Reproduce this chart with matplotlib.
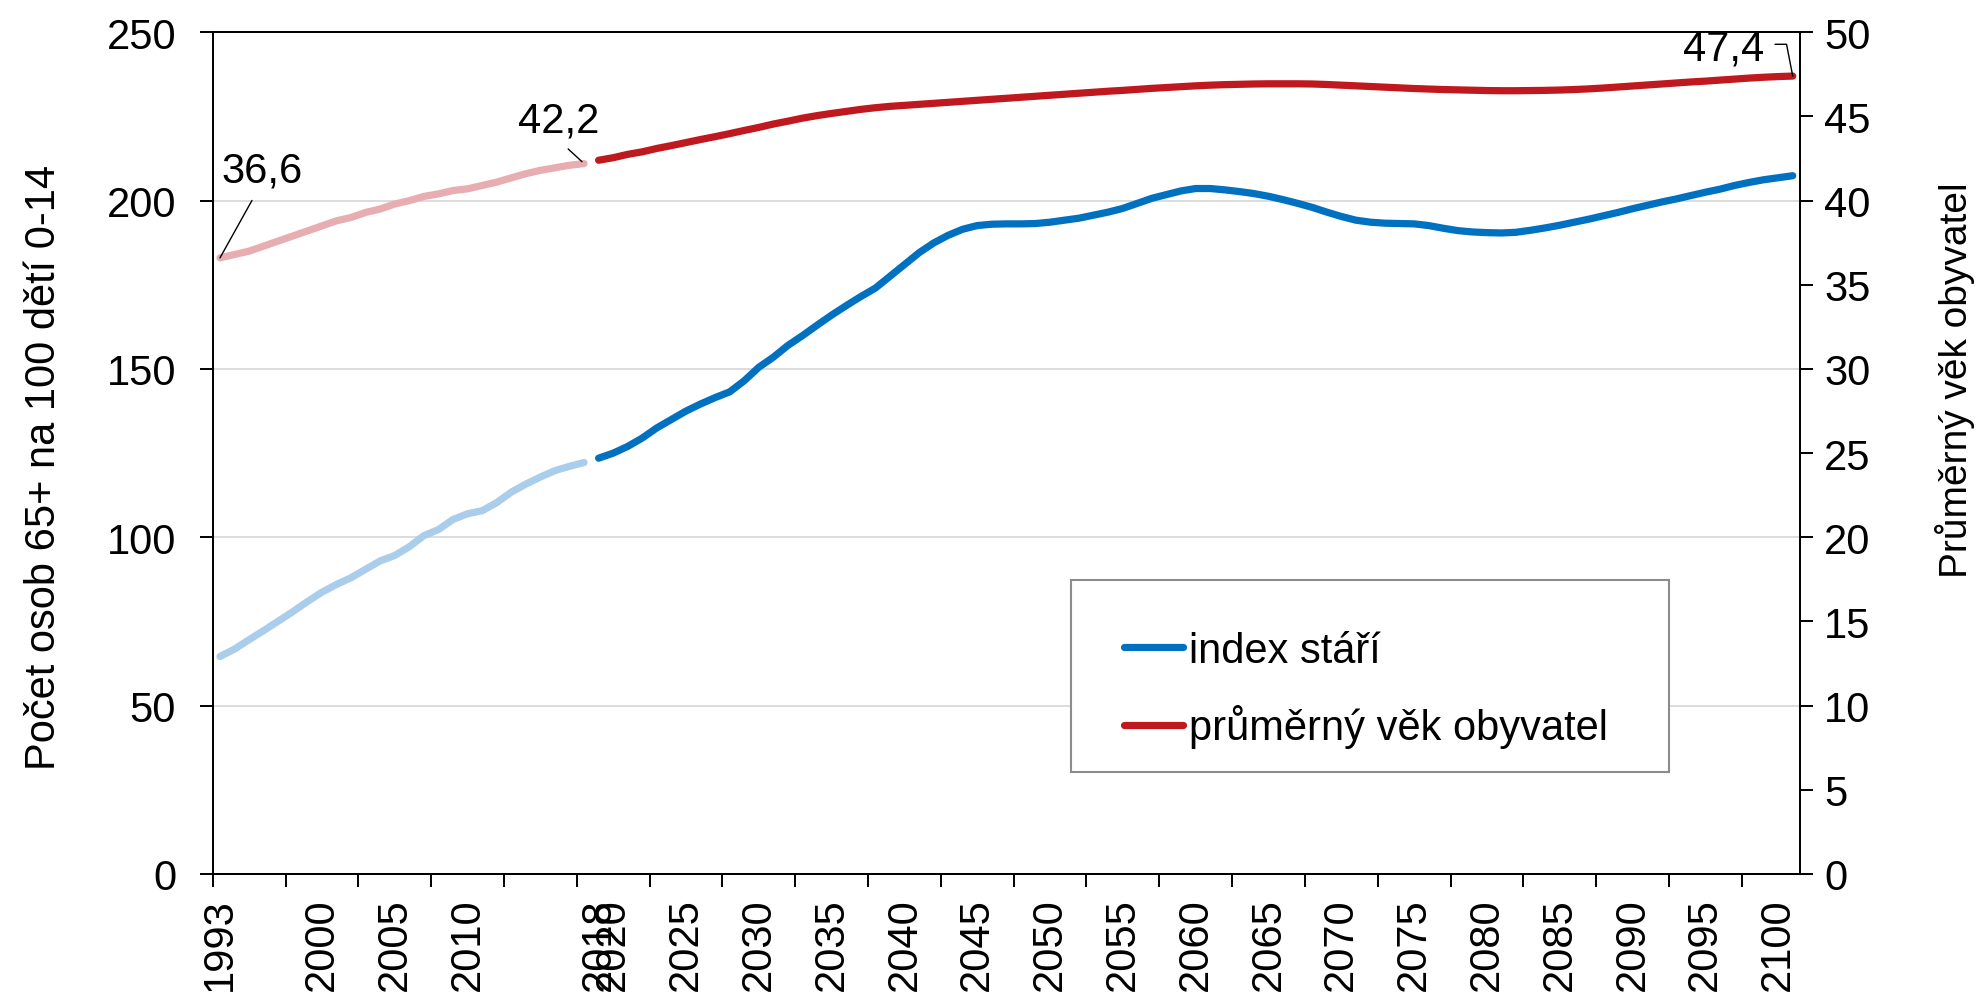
import matplotlib
matplotlib.use('Agg')
import matplotlib.pyplot as plt
import numpy as np
from matplotlib.patches import Rectangle

plt.rcParams['font.family'] = ['Liberation Sans', 'DejaVu Sans']
plt.rcParams['font.size'] = 30

# actual values 1993-2018
index_actual = [64.6, 66.8, 69.6, 72.3, 75.1, 77.9, 80.9, 83.7, 86.0, 88.0,
                90.5, 93.0, 94.6, 97.2, 100.5, 102.3, 105.3, 107.0, 107.9, 110.3,
                113.4, 115.8, 117.9, 119.8, 121.1, 122.2]
age_actual = [36.6, 36.8, 37.0, 37.3, 37.6, 37.9, 38.2, 38.5, 38.8, 39.0,
              39.3, 39.5, 39.8, 40.0, 40.25, 40.4, 40.6, 40.7, 40.9, 41.1,
              41.35, 41.6, 41.8, 41.95, 42.1, 42.2]

# projection
index_proj = [123.5, 125.0, 127.0, 129.5, 132.5, 135.0, 137.5, 139.6, 141.5, 143.2,
              146.5, 150.5, 153.5, 157.0, 159.9, 163.0, 166.0, 168.8, 171.5, 174.0,
              177.5, 181.0, 184.5, 187.4, 189.7, 191.5, 192.6, 193.0, 193.1, 193.1,
              193.2, 193.6, 194.2, 194.8, 195.7, 196.6, 197.7, 199.2, 200.7, 201.8,
              202.9, 203.6, 203.6, 203.2, 202.7, 202.1, 201.3, 200.3, 199.2, 198.0,
              196.6, 195.3, 194.2, 193.6, 193.3, 193.2, 193.1, 192.6, 191.8, 191.1,
              190.7, 190.5, 190.4, 190.6, 191.2, 191.9, 192.7, 193.6, 194.5, 195.5,
              196.5, 197.6, 198.6, 199.6, 200.5, 201.5, 202.5, 203.4, 204.5, 205.4,
              206.2, 206.8, 207.4]
age_proj = [42.4, 42.55, 42.75, 42.9, 43.1, 43.27, 43.45, 43.63, 43.8, 43.98,
            44.17, 44.35, 44.55, 44.72, 44.9, 45.05, 45.18, 45.3, 45.42, 45.52,
            45.6, 45.66, 45.72, 45.78, 45.84, 45.9, 45.96, 46.02, 46.08, 46.14,
            46.2, 46.26, 46.32, 46.38, 46.44, 46.5, 46.55, 46.61, 46.67, 46.72,
            46.77, 46.82, 46.86, 46.89, 46.91, 46.93, 46.94, 46.94, 46.94, 46.93,
            46.9, 46.86, 46.82, 46.78, 46.74, 46.7, 46.66, 46.63, 46.6, 46.58,
            46.56, 46.54, 46.53, 46.53, 46.54, 46.55, 46.57, 46.6, 46.64, 46.69,
            46.75, 46.81, 46.87, 46.93, 46.99, 47.05, 47.1, 47.16, 47.22, 47.28,
            47.33, 47.37, 47.4]

# category axis labels (category index, text)
label_pos = [0, 7, 12, 17, 26] + list(range(27, 108, 5))
label_txt = ['1993', '2000', '2005', '2010', '2018'] + [str(y) for y in range(2020, 2101, 5)]

x_act = np.arange(len(index_actual))
x_proj = np.arange(len(index_actual), len(index_actual) + len(index_proj))

fig = plt.figure(figsize=(19.8, 9.95), dpi=100)
ax = fig.add_axes([212.7 / 1980, 120 / 995, 1587.3 / 1980, 841.7 / 995])
ax2 = ax.twinx()

lw = 5.2
ax.plot(x_act, index_actual, color='#a9cdeb', lw=lw, solid_capstyle='round')
l_blue, = ax.plot(x_proj, index_proj, color='#0070c0', lw=lw, solid_capstyle='round')
ax2.plot(x_act, age_actual, color='#e8adb1', lw=lw, solid_capstyle='round')
l_red, = ax2.plot(x_proj, age_proj, color='#c0181f', lw=lw, solid_capstyle='round')

ax.set_xlim(-0.5, 108.5)
ax.set_ylim(0, 250)
ax2.set_ylim(0, 50)
ax.set_yticks(np.arange(0, 251, 50))
ax2.set_yticks(np.arange(0, 51, 5))
ax.yaxis.grid(True, color='#d9d9d9', lw=1.3)
ax.set_axisbelow(True)

ax.set_xticks(np.arange(-0.5, 105, 5))
ax.set_xticks(label_pos, minor=True)
ax.set_xticklabels(label_txt, minor=True, rotation=90)
ax.tick_params(axis='x', which='major', length=9.4, width=1.4, labelbottom=False)
ax.tick_params(axis='x', which='minor', length=0, pad=16.5)
ax.tick_params(axis='y', length=9.4, width=1.4, pad=17)
ax2.tick_params(axis='y', length=9.4, width=1.4, pad=8)
for a in (ax, ax2):
    for s in a.spines.values():
        s.set_linewidth(1.4)

fig.text(44 / 1980, 1 - 467 / 995, 'Počet osob 65+ na 100 dětí 0-14',
         rotation=90, ha='center', va='center')
fig.text(1955 / 1980, 1 - 380 / 995, 'Průměrný věk obyvatel',
         rotation=90, ha='center', va='center', fontsize=28)


def fmt(v):
    return f'{v:.1f}'.replace('.', ',')


ax2.annotate(fmt(age_actual[0]), xy=(x_act[0], age_actual[0]), xytext=(30, 63),
             textcoords='offset points', ha='center', va='center',
             arrowprops=dict(arrowstyle='-', color='black', lw=1, relpos=(0.45, 0),
                             shrinkA=6, shrinkB=0))
ax2.annotate(fmt(age_actual[-1]), xy=(x_act[-1], age_actual[-1]), xytext=(-18, 31),
             textcoords='offset points', ha='center', va='center',
             arrowprops=dict(arrowstyle='-', color='black', lw=1, relpos=(0.5, 0),
                             shrinkA=6, shrinkB=2))
ax2.annotate(fmt(age_proj[-1]), xy=(x_proj[-1], age_proj[-1]), xytext=(-50, 20),
             textcoords='offset points', ha='center', va='center',
             arrowprops=dict(arrowstyle='-', color='black', lw=1, relpos=(1, 0.6),
                             shrinkA=6, shrinkB=0,
                             connectionstyle='angle,angleA=0,angleB=101,rad=0'))

fig.patches.append(Rectangle((1071 / 1980, 1 - 773 / 995), 598 / 1980, 192 / 995,
                             transform=fig.transFigure, facecolor='white',
                             edgecolor='#8c8c8c', lw=1.5, zorder=5))
fig.legend([l_blue, l_red], ['index stáří', 'průměrný věk obyvatel'],
           loc='upper left', bbox_to_anchor=(1124 / 1980, 1 - 632 / 995),
           bbox_transform=fig.transFigure, frameon=False, borderpad=0,
           borderaxespad=0, handlelength=1.41, handletextpad=0.15,
           labelspacing=0.8)

fig.savefig('out.png', dpi=100)
